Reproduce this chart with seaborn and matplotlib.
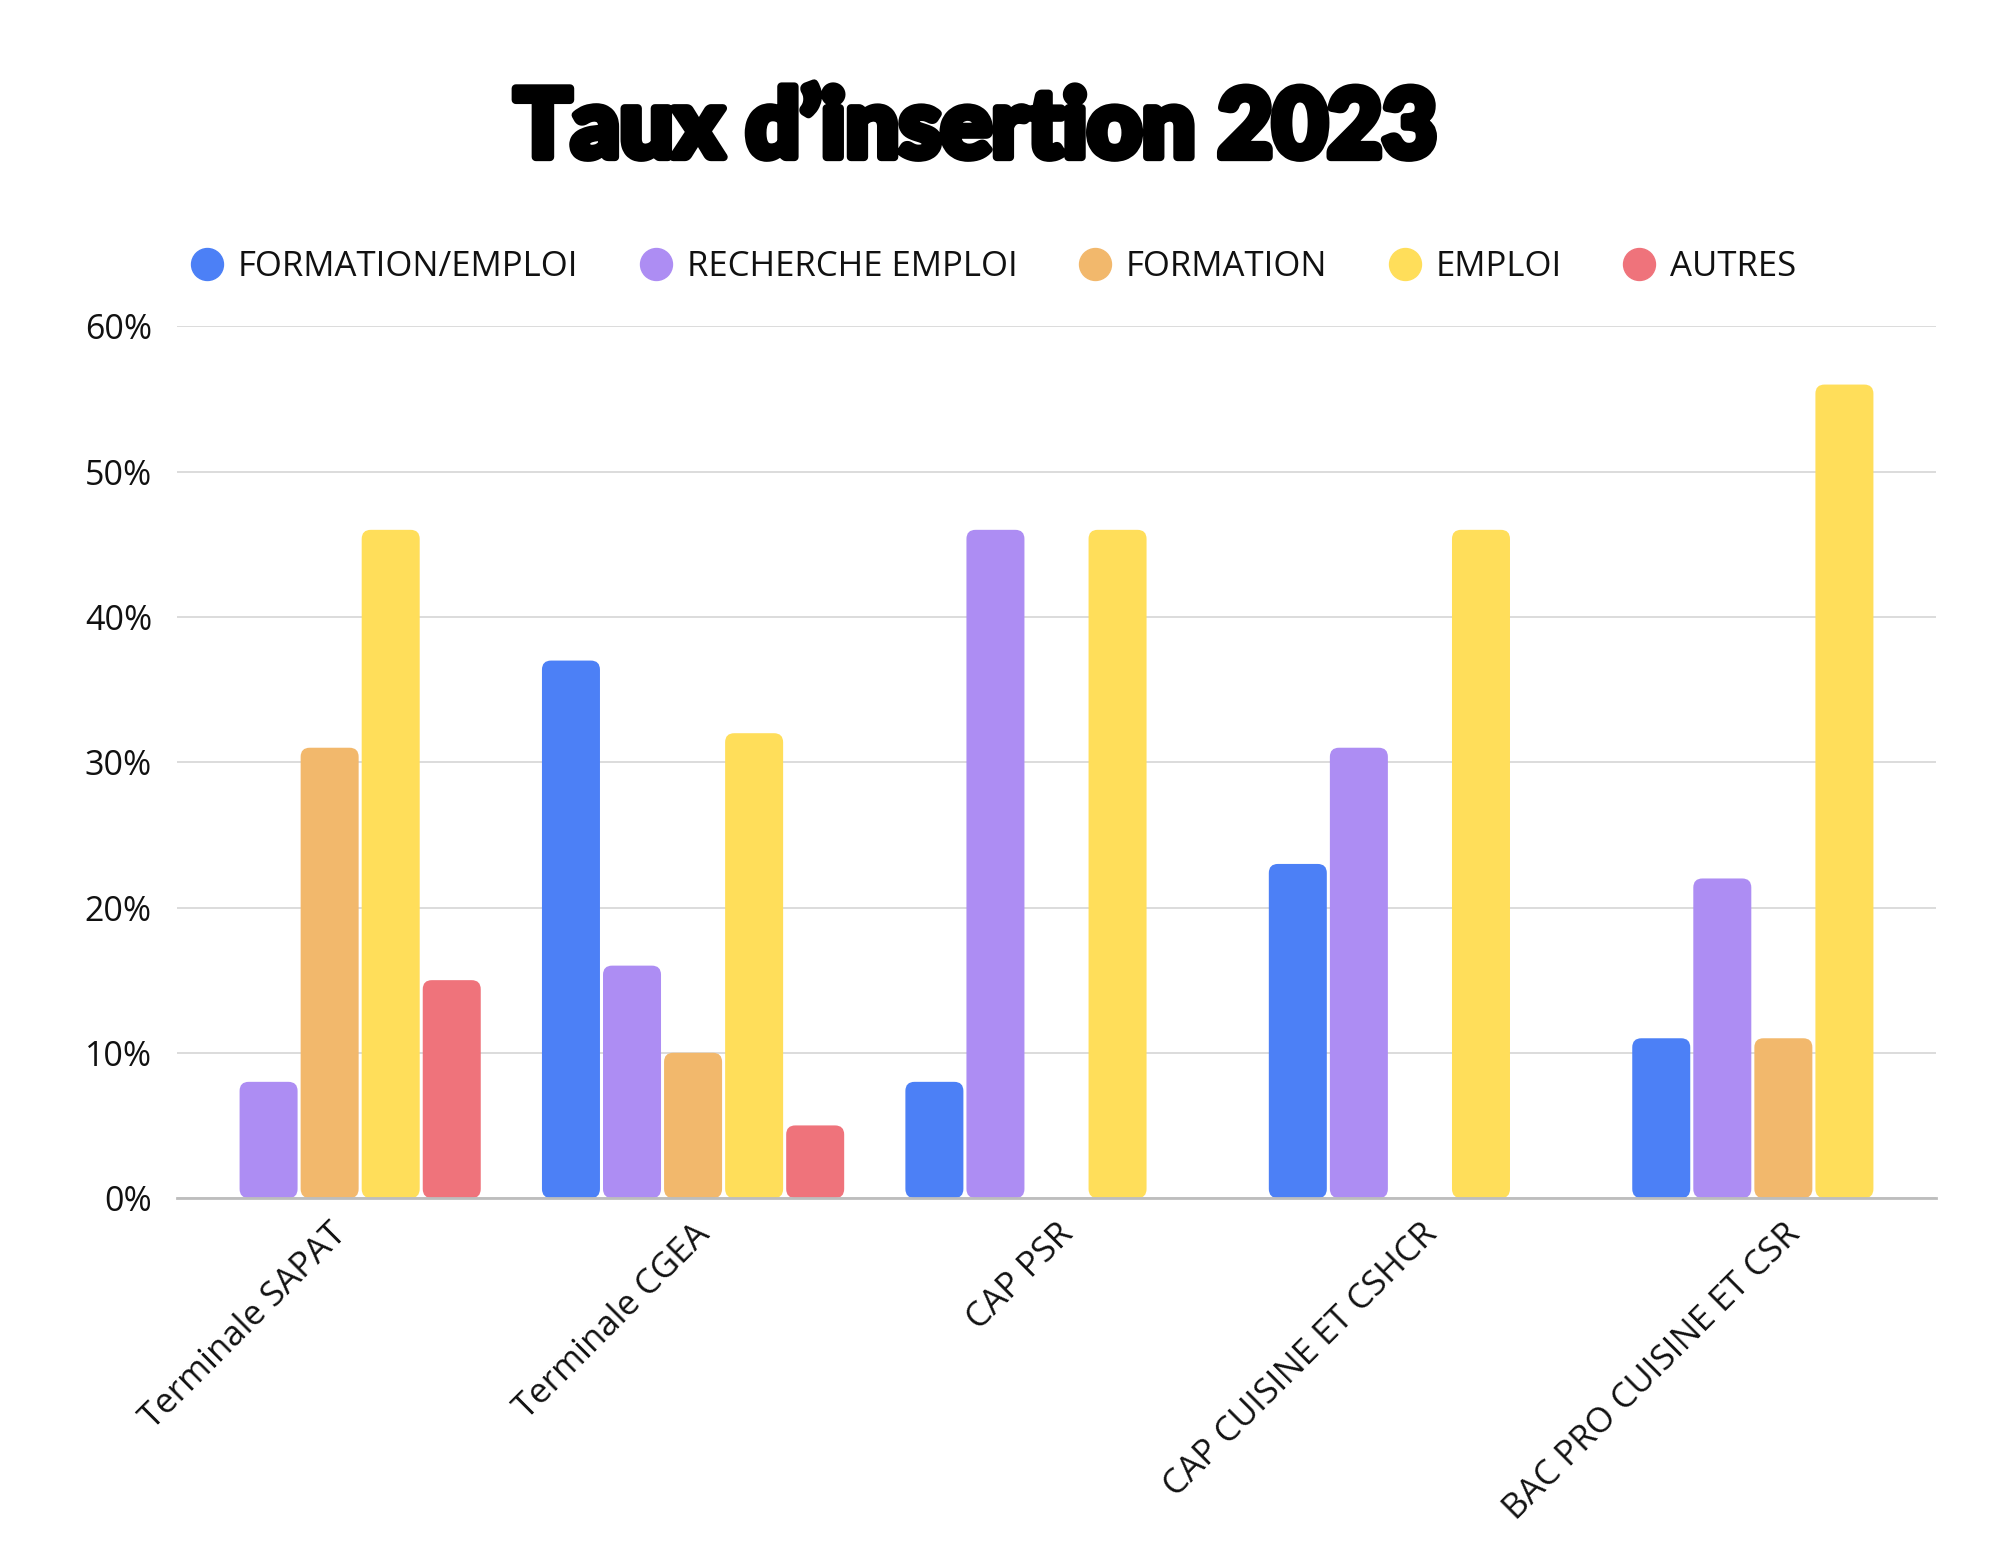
import pandas as pd
import matplotlib.pyplot as plt
import matplotlib.patheffects as pe
import seaborn as sns
from matplotlib.patches import FancyBboxPatch

# Data (percent)
categories = ['Terminale SAPAT', 'Terminale CGEA', 'CAP PSR',
              'CAP CUISINE ET CSHCR', 'BAC PRO CUISINE ET CSR']
series = ['FORMATION/EMPLOI', 'RECHERCHE EMPLOI', 'FORMATION', 'EMPLOI', 'AUTRES']
formation_emploi = [0, 37, 8, 23, 11]
recherche_emploi = [8, 16, 46, 31, 22]
formation = [31, 10, 0, 0, 11]
emploi = [46, 32, 46, 46, 56]
autres = [15, 5, 0, 0, 0]
colors = ['#4C80F6', '#AD8DF3', '#F2B86C', '#FFDE5A', '#EF737B']

values = [formation_emploi, recherche_emploi, formation, emploi, autres]
rows = []
for s, vals in zip(series, values):
    for c, v in zip(categories, vals):
        rows.append({'categorie': c, 'serie': s, 'valeur': v / 100})
df = pd.DataFrame(rows)

sns.set_theme(style='white')
plt.rcParams['font.family'] = ['Open Sans', 'DejaVu Sans']

fig = plt.figure(figsize=(20, 15.62), dpi=100)
ax = fig.add_axes([0.0885, 0.233, 0.8795, 0.558])

sns.barplot(data=df, x='categorie', y='valeur', hue='serie', hue_order=series,
            palette=colors, width=0.84, gap=0.05, saturation=1,
            legend=False, ax=ax)

# rounded tops
for p in list(ax.patches):
    h = p.get_height()
    if h <= 0:
        p.remove()
        continue
    x, w = p.get_x(), p.get_width()
    rb = FancyBboxPatch((x, 0), w, h,
                        boxstyle='round,pad=0,rounding_size=0.025',
                        mutation_aspect=0.25,
                        fc=p.get_facecolor(), ec='none', zorder=2)
    ax.add_patch(rb)
    p.remove()

ax.set_xlim(-0.42, 4.42)
ax.set_ylim(0, 0.6)
ax.set_yticks([0, 0.1, 0.2, 0.3, 0.4, 0.5, 0.6])
ax.set_yticklabels(['0%', '10%', '20%', '30%', '40%', '50%', '60%'])
ax.yaxis.grid(True, color='#D9D9D9', linewidth=1.3)
ax.set_axisbelow(True)
for side in ['top', 'right', 'left']:
    ax.spines[side].set_visible(False)
ax.spines['bottom'].set_color('#BDBDBD')
ax.spines['bottom'].set_linewidth(2)
ax.tick_params(axis='y', length=0, pad=18, labelsize=24.5, labelcolor='#111111')
ax.tick_params(axis='x', length=0, pad=14, labelsize=25, labelcolor='#111111')
ax.set_xlabel('')
ax.set_ylabel('')
plt.setp(ax.get_xticklabels(), rotation=45, ha='right', rotation_mode='anchor')

# legend
handles = [plt.Line2D([], [], marker='o', linestyle='', markersize=23,
                      markerfacecolor=c, markeredgecolor=c) for c in colors]
fig.legend(handles, series, loc='center', bbox_to_anchor=(0.4965, 0.829),
           ncol=5, frameon=False, fontsize=25, handlelength=1.0,
           handletextpad=0.4, columnspacing=1.72, labelcolor='#111111')

fig.text(0.488, 0.8995, 'Taux d\u2019insertion 2023', ha='center', va='baseline',
         fontsize=68, fontweight='black', color='black',
         family=['Lato', 'DejaVu Sans'],
         path_effects=[pe.withStroke(linewidth=6, foreground='black')])

fig.savefig('out.png', dpi=100, facecolor='white')
